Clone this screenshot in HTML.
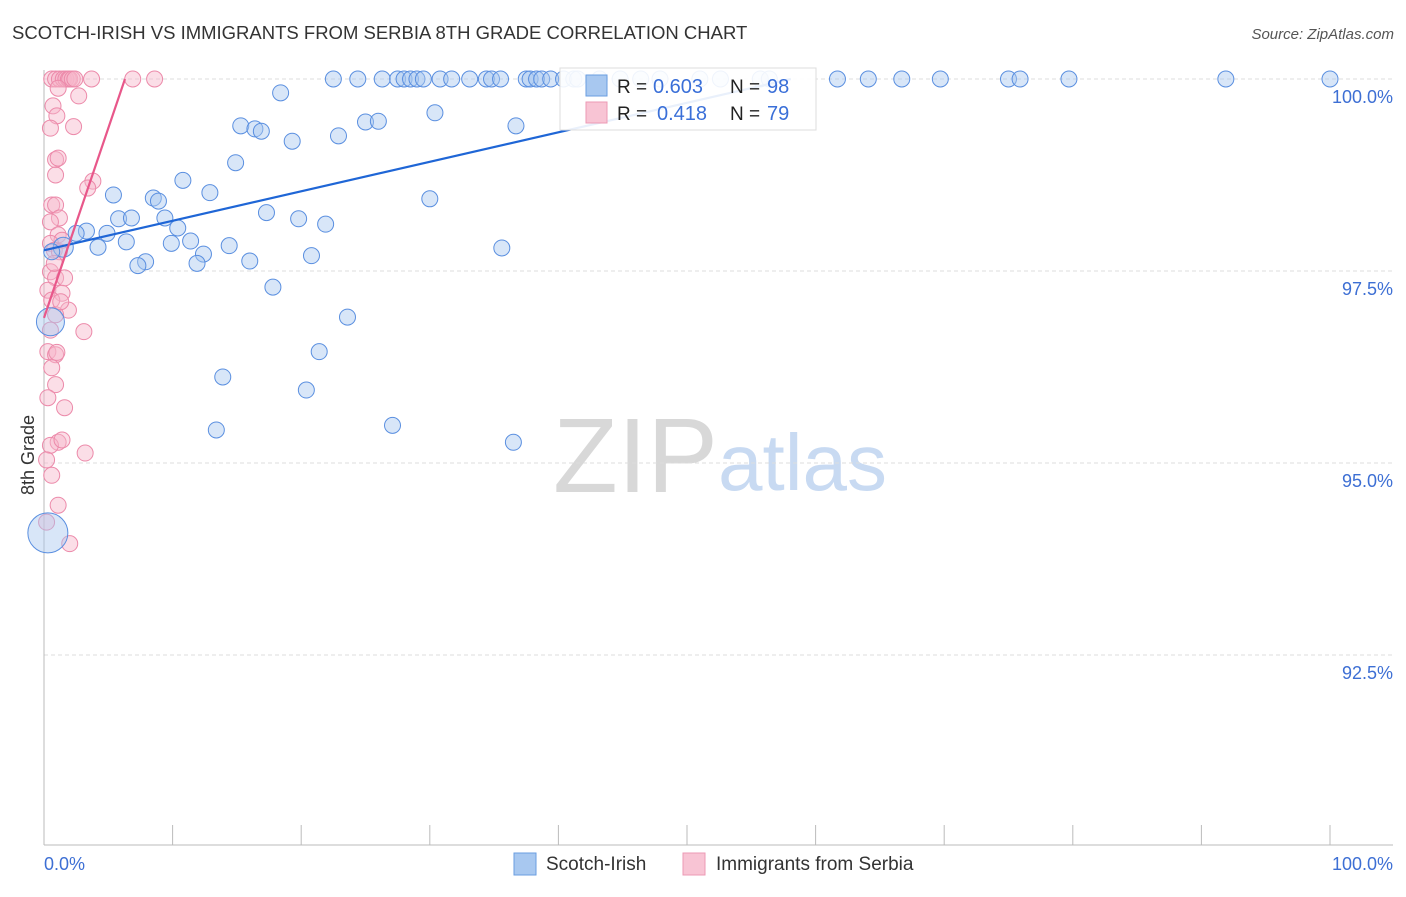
<!DOCTYPE html>
<html><head><meta charset="utf-8"><style>
body{margin:0;background:#fff;font-family:"Liberation Sans",sans-serif}
svg text{font-family:"Liberation Sans",sans-serif}
</style></head><body>
<svg id="chart" width="1406" height="892" xmlns="http://www.w3.org/2000/svg">
<text x="12" y="39" font-size="18.5" fill="#333">SCOTCH-IRISH VS IMMIGRANTS FROM SERBIA 8TH GRADE CORRELATION CHART</text>
<text x="1394" y="39" font-size="15" fill="#555" text-anchor="end" font-style="italic">Source: ZipAtlas.com</text>
<g>
<text x="553" y="492" font-size="106" fill="#d8d8d8" font-family="Liberation Serif">ZIP</text>
<text x="718" y="490" font-size="80" fill="#c8daf2">atlas</text>
</g>
<g id="grid"></g>
<g id="axes"></g>
<g id="pink"></g>
<g id="blue"></g>
<g id="lines"></g>
<g>
<rect x="560" y="68" width="256" height="62" fill="#fff" fill-opacity="0.9" stroke="#ddd"/>
<rect x="586" y="75" width="21" height="21" fill="#a8c8f0" stroke="#6a9ee0"/>
<rect x="586" y="102" width="21" height="21" fill="#f8c4d4" stroke="#ec9ab4"/>
<text x="617" y="93" font-size="19" fill="#222">R =</text>
<text x="653" y="93" font-size="20" fill="#3a6fd8">0.603</text>
<text x="730" y="93" font-size="19" fill="#222">N =</text>
<text x="767" y="93" font-size="20" fill="#3a6fd8">98</text>
<text x="617" y="120" font-size="19" fill="#222">R =</text>
<text x="657" y="120" font-size="20" fill="#3a6fd8">0.418</text>
<text x="730" y="120" font-size="19" fill="#222">N =</text>
<text x="767" y="120" font-size="20" fill="#3a6fd8">79</text>
</g>
<g>
<rect x="514" y="853" width="22" height="22" fill="#a8c8f0" stroke="#6a9ee0"/>
<text x="546" y="870" font-size="19" fill="#333">Scotch-Irish</text>
<rect x="683" y="853" width="22" height="22" fill="#f8c4d4" stroke="#ec9ab4"/>
<text x="716" y="870" font-size="19" fill="#333">Immigrants from Serbia</text>
</g>
<text transform="translate(34,455) rotate(-90)" font-size="18" fill="#333" text-anchor="middle">8th Grade</text>
</svg>
<script>
const yTicks=[100,97.5,95,92.5];
const yTickLabels=["100.0%","97.5%","95.0%","92.5%"];
const xTickLabels=["0.0%","100.0%"];
const blueX=[22.5,24.4,26.3,27.5,28.0,28.5,29.0,29.5,30.8,31.7,33.1,34.4,34.8,35.5,37.5,37.8,38.3,38.7,39.4,40.4,41.2,41.5,43.2,44.8,46.4,47.9,51.0,52.6,55.7,56.4,61.7,64.1,66.7,69.7,75.0,75.9,79.7,91.9,100,
18.4,15.3,16.4,16.9,19.3,22.9,25.0,26.0,30.4,36.7,14.9,10.8,12.9,5.4,8.5,8.9,30.0,17.3,5.8,6.8,9.4,19.8,21.9,10.4,4.9,3.3,2.5,6.4,4.2,9.9,11.4,14.4,12.4,35.6,20.8,16.0,7.9,7.3,11.9,17.8,23.6,21.4,13.9,20.4,13.4,27.1,36.5,1.5,0.6,0.5,0.3];
const blueY=[100,100,100,100,100,100,100,100,100,100,100,100,100,100,100,100,100,100,100,100,100,100,100,100,100,100,100,100,100,100,100,100,100,100,100,100,100,100,100,
99.82,99.39,99.35,99.32,99.19,99.26,99.44,99.45,99.56,99.39,98.91,98.68,98.52,98.49,98.45,98.41,98.44,98.26,98.18,98.19,98.19,98.18,98.11,98.06,97.99,98.02,97.99,97.88,97.81,97.86,97.89,97.83,97.72,97.80,97.70,97.63,97.62,97.57,97.60,97.29,96.90,96.45,96.12,95.95,95.43,95.49,95.27,97.81,97.75,96.84,94.09];
const pinkX=[0.6,0.9,1.2,1.5,1.7,1.9,2.0,2.2,2.4,3.7,6.9,8.6,1.1,2.7,0.7,1.0,0.5,2.3,0.9,0.9,1.1,3.8,3.4,0.6,0.9,1.2,0.5,1.1,1.4,0.5,0.8,1.2,0.5,0.9,1.6,0.3,1.4,1.9,0.6,0.9,0.5,3.1,0.3,0.9,1.0,0.6,0.9,0.3,1.6,1.1,0.5,1.4,3.2,0.2,0.6,1.1,0.2,2.0,0.8,1.3];
const pinkY=[100,100,100,100,100,100,100,100,100,100,100,100,99.88,99.78,99.65,99.52,99.36,99.38,98.95,98.75,98.97,98.67,98.58,98.36,98.36,98.19,98.14,97.97,97.90,97.86,97.77,97.75,97.49,97.41,97.41,97.25,97.21,96.99,97.12,96.93,96.73,96.71,96.45,96.41,96.44,96.24,96.02,95.85,95.72,95.27,95.23,95.30,95.13,95.04,94.84,94.45,94.23,93.95,97.6,97.1];
const blueTrend=[97.77,0.0384];
const pinkTrend=[96.89,0.494];
const NS="http://www.w3.org/2000/svg";
const X0=44,X1=1330,Y100=79,PXP=76.8;
function sx(v){return X0+(X1-X0)*v/100}
function sy(v){return Y100+(100-v)*PXP}
function mk(tag,attrs,parent){const e=document.createElementNS(NS,tag);for(const k in attrs)e.setAttribute(k,attrs[k]);parent.appendChild(e);return e}
const grid=document.getElementById('grid'),axes=document.getElementById('axes');
yTicks.forEach((t,i)=>{
 const l=mk('line',{x1:44,x2:1393,y1:sy(t),y2:sy(t),stroke:'#ddd','stroke-dasharray':'4,3'},grid);
 
 
 const tx=mk('text',{x:1393,y:sy(t)+24,'font-size':18,fill:'#3d6fd4','text-anchor':'end'},axes);
 tx.textContent=yTickLabels[i];
 
 
});
const ax=mk('line',{x1:44,x2:1393,y1:845,y2:845,stroke:'#bbb'},axes);


const ay=mk('line',{x1:44,x2:44,y1:70,y2:845,stroke:'#bbb'},axes);


for(let i=0;i<=10;i++){
 const t=mk('line',{x1:sx(i*10),x2:sx(i*10),y1:825,y2:845,stroke:'#bbb'},axes);
 
 
}
const xl0=mk('text',{x:44,y:870,'font-size':18,fill:'#3d6fd4'},axes);xl0.textContent=xTickLabels[0];


const xl1=mk('text',{x:1393,y:870,'font-size':18,fill:'#3d6fd4','text-anchor':'end'},axes);xl1.textContent=xTickLabels[1];


const pg=document.getElementById('pink');
pinkX.forEach((x,i)=>{
 const c=mk('circle',{cx:sx(x),cy:sy(pinkY[i]),r:8,fill:'#f7b6ca','fill-opacity':0.45,stroke:'#ec8aaa','stroke-width':1},pg);
 
 
});
const bg=document.getElementById('blue');
const n=blueX.length;
blueX.forEach((x,i)=>{
 let r=8; if(i===n-2)r=14; if(i===n-1)r=20; if(i===n-4)r=10;
 const c=mk('circle',{cx:sx(x),cy:sy(blueY[i]),r:r,fill:'#a8c8f0','fill-opacity':0.45,stroke:'#5a8fe0','stroke-width':1},bg);
 
 
});
const lg=document.getElementById('lines');
function trend(p,color,name){
 const xEnd=(100-p[0])/p[1];
 const l=mk('line',{x1:sx(0),y1:sy(p[0]),x2:sx(xEnd),y2:sy(100),stroke:color,'stroke-width':2.2},lg);
 
 
}
trend(blueTrend,'#1f66d6','scotch-irish-trend-line');
trend(pinkTrend,'#e8578a','serbia-trend-line');
</script>
</body></html>
